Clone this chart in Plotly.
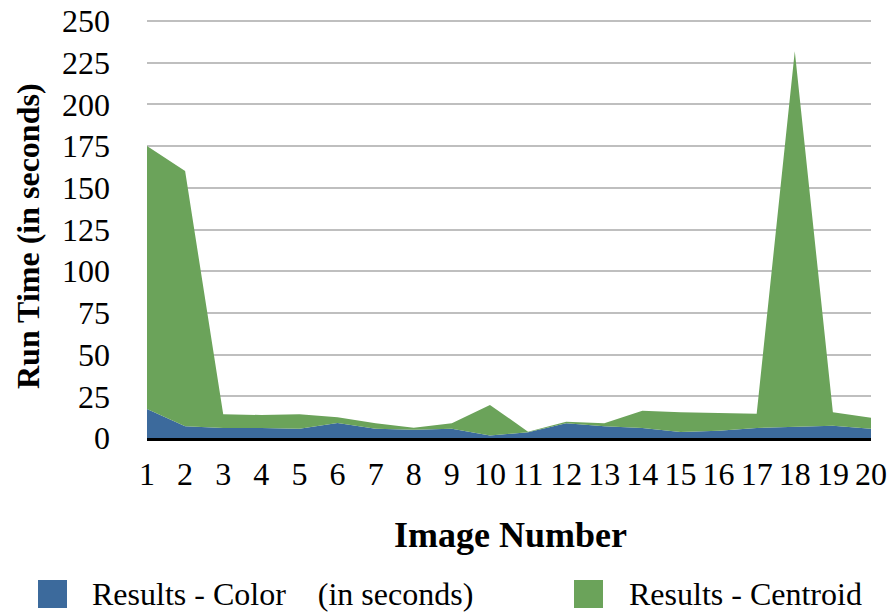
import plotly.graph_objects as go

images = list(range(1, 21))
color_times = [17.4, 7.0, 6.0, 6.0, 5.5, 9.0, 5.5, 5.0, 5.5, 1.5,
               3.5, 8.8, 7.0, 6.0, 3.6, 4.4, 6.0, 6.8, 7.4, 5.6]
centroid_times = [157.6, 153.0, 8.2, 7.8, 8.7, 3.4, 3.3, 1.2, 3.3, 18.3,
                  0.3, 1.0, 1.8, 10.4, 11.8, 10.4, 8.6, 225.0, 8.0, 6.6]
y_ticks = [0, 25, 50, 75, 100, 125, 150, 175, 200, 225, 250]
series_names = ["Results - Color    (in seconds)", "Results - Centroid"]

BLUE = "#3C6A9C"
GREEN = "#6BA35A"
FONT = "Liberation Serif"

# plot area in page pixels
PL, PR, PT, PB = 147, 871, 16, 438
PW, PH = PR - PL, PB - PT
Y_TOP = (PB - PT) / ((PB - 21) / 250)   # so that 250 sits at page y=21


def px(xp):
    return (xp - PL) / PW


def py(yp):
    return (PB - yp) / PH


fig = go.Figure()
fig.add_trace(go.Scatter(x=images, y=color_times, mode="lines", stackgroup="s",
                         line=dict(width=0, color=BLUE), fillcolor=BLUE,
                         name=series_names[0], showlegend=False))
fig.add_trace(go.Scatter(x=images, y=centroid_times, mode="lines", stackgroup="s",
                         line=dict(width=0, color=GREEN), fillcolor=GREEN,
                         name=series_names[1], showlegend=False))

fig.update_layout(
    width=890, height=613,
    margin=dict(l=PL, r=890 - PR, t=PT, b=613 - PB, autoexpand=False),
    paper_bgcolor="white", plot_bgcolor="white",
    font=dict(family=FONT, size=32, color="black"),
    xaxis=dict(range=[1, 20], tickvals=images, ticktext=[str(i) for i in images],
               showgrid=False, zeroline=False, showline=True, linecolor="black",
               linewidth=3, ticks="", ticklabelstandoff=6, ticklabeloverflow="allow",
               tickfont=dict(family=FONT, size=32)),
    yaxis=dict(range=[0, Y_TOP], tickvals=y_ticks, showgrid=True,
               gridcolor="#BFBFBF", gridwidth=2, zeroline=False, showline=False,
               ticks="", ticklabelstandoff=36, ticklabeloverflow="allow",
               tickfont=dict(family=FONT, size=32)),
    annotations=[
        dict(text="<b>Image Number</b>", xref="paper", yref="paper",
             x=px(510), y=py(535), showarrow=False,
             font=dict(family=FONT, size=36), xanchor="center", yanchor="middle"),
        dict(text="<b>Run Time (in seconds)</b>", xref="paper", yref="paper",
             x=px(28), y=py(236), showarrow=False, textangle=-90,
             font=dict(family=FONT, size=32), xanchor="center", yanchor="middle"),
        dict(text=series_names[0], xref="paper", yref="paper",
             x=px(90), y=py(594), showarrow=False,
             font=dict(family=FONT, size=32), xanchor="left", yanchor="middle"),
        dict(text=series_names[1], xref="paper", yref="paper",
             x=px(627), y=py(594), showarrow=False,
             font=dict(family=FONT, size=32), xanchor="left", yanchor="middle"),
    ],
    shapes=[
        dict(type="rect", xref="paper", yref="paper",
             x0=px(38), x1=px(67), y0=py(608), y1=py(580),
             fillcolor=BLUE, line=dict(width=0)),
        dict(type="rect", xref="paper", yref="paper",
             x0=px(574), x1=px(603), y0=py(608), y1=py(580),
             fillcolor=GREEN, line=dict(width=0)),
    ],
)

fig.write_html("out.html",
               config={"displayModeBar": False},
               post_script="document.body.style.margin='0';"
                           "document.body.style.overflow='hidden';")
